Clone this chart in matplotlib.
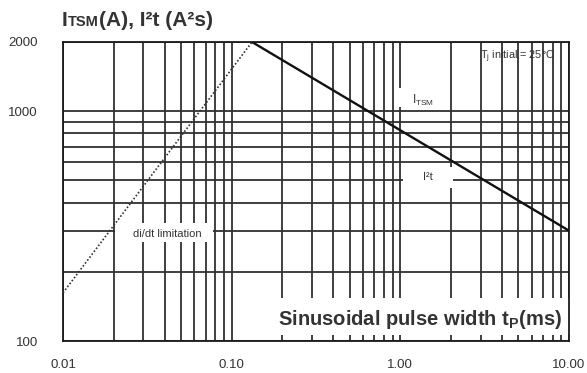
"""Surge current rating vs sinusoidal pulse width (log-log datasheet chart)."""

import matplotlib
matplotlib.use("Agg")
import matplotlib.pyplot as plt
from matplotlib.patches import Rectangle

plt.rcParams["font.family"] = ["Liberation Sans", "DejaVu Sans"]
plt.rcParams["mathtext.fontset"] = "custom"
plt.rcParams["mathtext.rm"] = "Liberation Sans"
plt.rcParams["mathtext.it"] = "Liberation Sans:italic"
plt.rcParams["mathtext.bf"] = "Liberation Sans:bold"

TEXT = "#333333"
GRID = "#303030"

# ------------------------------------------------------------------ data
itsm_tp = [0.132, 10.0]          # ms
itsm_val = [2000, 302]           # A  (also I2t curve, they coincide here)
didt_tp = [0.01, 0.132]          # ms
didt_val = [162, 2000]

x_major = [0.01, 0.1, 1.0, 10.0]
x_labels = ["0.01", "0.10", "1.00", "10.00"]
x_minor = [m * d for d in (0.01, 0.1, 1.0) for m in range(2, 10)]
y_major = [100, 1000, 2000]
y_labels = ["100", "1000", "2000"]
y_minor = [200, 300, 400, 500, 600, 700, 800, 900]


def white_box(ax, x0, x1, y0, y1):
    """White patch (data coords) that knocks the grid out behind a label."""
    ax.add_patch(Rectangle((x0, y0), x1 - x0, y1 - y0, facecolor="white",
                           edgecolor="none", zorder=1.5))


def main():
    fig = plt.figure(figsize=(5.87, 3.73), dpi=100)
    ax = fig.add_axes([63 / 587, 32 / 373, 506 / 587, 299 / 373])
    ax.set_xscale("log")
    ax.set_yscale("log")
    ax.set_xlim(0.01, 10)
    ax.set_ylim(100, 2000)

    ax.set_xticks(x_major, x_labels)
    ax.set_xticks(x_minor, minor=True)
    ax.set_yticks(y_major, y_labels)
    ax.set_yticks(y_minor, minor=True)
    ax.xaxis.set_minor_formatter(plt.NullFormatter())
    ax.yaxis.set_minor_formatter(plt.NullFormatter())
    ax.tick_params(which="both", length=0, labelsize=9.5, labelcolor=TEXT)
    ax.tick_params(axis="y", pad=18)
    ax.tick_params(axis="x", pad=13)
    ax.set_axisbelow(True)
    ax.grid(True, which="both", color=GRID, lw=1.3)
    for s in ax.spines.values():
        s.set_color("#1a1a1a")
        s.set_linewidth(1.3)

    ax.plot(itsm_tp, itsm_val, color="#111111", lw=1.7, zorder=3)
    ax.plot(didt_tp, didt_val, color="#333333", lw=1.2,
            linestyle=(0, (1.0, 1.2)), zorder=3)

    # labels with knocked-out grid
    white_box(ax, 0.98, 1.98, 1040, 1262)
    ax.text(1.36, 1115, r"I$_\mathrm{TSM}$", fontsize=8.5, color=TEXT,
            ha="center", va="center", zorder=4)
    white_box(ax, 1.04, 2.05, 463, 572)
    ax.text(1.46, 518, "I²t", fontsize=8, color=TEXT,
            ha="center", va="center", zorder=4)
    white_box(ax, 0.0203, 0.0775, 270, 326)
    ax.text(0.0414, 292, "di/dt limitation", fontsize=8, color=TEXT,
            ha="center", va="center", zorder=4)
    white_box(ax, 0.173, 10.0, 106, 154)
    ax.text(9.08, 117, r"Sinusoidal pulse width t$_\mathbf{P}$(ms)",
            fontsize=14.5, weight="bold", color=TEXT,
            ha="right", va="baseline", zorder=4)
    ax.text(2.97, 1720, r"T$_\mathrm{j}$ initial = 25°C", fontsize=7.8,
            color=TEXT, ha="left", va="center", zorder=4)

    # title built from pieces: big I, small TSM, rest big
    fig.canvas.draw()
    r = fig.canvas.get_renderer()
    x = 62 / 587
    y = 1 - 26 / 373
    for s, size in (("I", 15), ("TSM", 10.5), ("(A), I²t (A²s)", 15)):
        t = fig.text(x, y, s, fontsize=size, weight="bold", color=TEXT,
                     va="baseline", ha="left")
        x = t.get_window_extent(r).x1 / fig.bbox.width

    fig.savefig("out.png", dpi=100)
    plt.close(fig)


if __name__ == "__main__":
    main()
